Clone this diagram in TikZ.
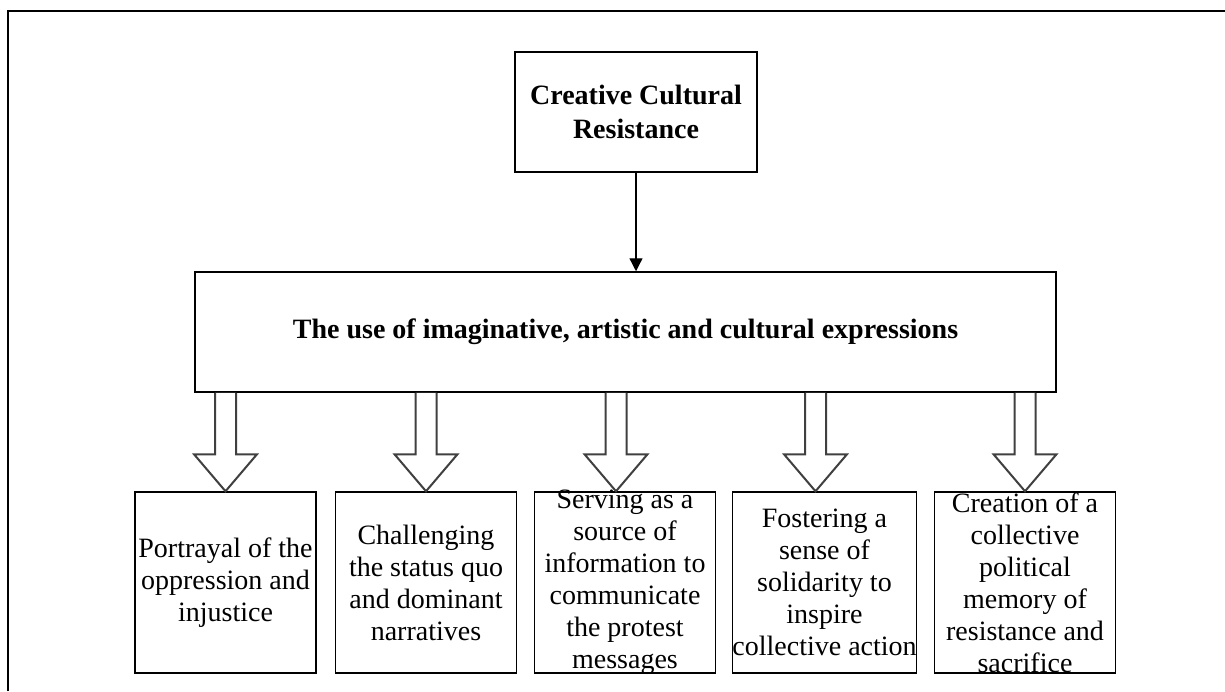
\documentclass[tikz,border=0pt]{standalone}
\usepackage{fontspec}
\setmainfont{Liberation Serif}
\usetikzlibrary{calc,arrows.meta}
\tikzset{
  frameline/.style={line width=1.2pt,black},
  box/.style={draw=black,line width=0.75pt,fill=white,align=center,inner sep=0pt,
    font=\fontsize{14pt}{16pt}\selectfont},
  titlebox/.style={box,font=\bfseries\fontsize{14pt}{17pt}\selectfont},
  smallbox/.style={box,minimum width=90.5pt,minimum height=90.5pt},
  boxtext/.style={align=center,inner sep=0pt,font=\fontsize{14pt}{16pt}\selectfont},
  harrow/.style={draw=black!75,line width=1pt,fill=white,line join=miter},
  link/.style={draw=black,line width=0.65pt,-{Triangle[length=6.5pt,width=6.5pt]}}
}
\newcommand{\hollowarrow}[2]{%
  \draw[harrow] let \p1=($(#1.north)+(#2,0)$), \p2=(mid.south) in
    (\x1-5.25pt,\y2) -- (\x1-5.25pt,\y1+18.5pt) -- (\x1-15.75pt,\y1+18.5pt) --
    (\x1,\y1) -- (\x1+15.75pt,\y1+18.5pt) -- (\x1+5.25pt,\y1+18.5pt) -- (\x1+5.25pt,\y2);}
\begin{document}
\begin{tikzpicture}[x=0.5pt,y=-0.5pt]
\useasboundingbox (0,0) rectangle (1225,691);
% outer frame (open on the right and bottom)
\coordinate (fbl) at (8,691);
\coordinate (ftl) at (8,11);
\coordinate (ftr) at (1225,11);
\draw[frameline] (fbl) -- (ftl) -- (ftr);

\node[titlebox,minimum width=121pt,minimum height=60pt] (top) at (636,112)
  {Creative Cultural\\Resistance};
\node[titlebox,minimum width=430.5pt,minimum height=60pt] (mid) at (625.5,332)
  {The use of imaginative, artistic and cultural expressions};

\draw[link] (top.south) -- (top.south |- mid.north);

\node[smallbox] (b1) at (225.5,582.5) {Portrayal of the\\oppression and\\injustice};
\node[smallbox] (b2) at (426,582.5) {Challenging\\the status quo\\and dominant\\narratives};
\node[smallbox] (b3) at (625,582.5) {};
\node[boxtext] (t3) at (b3.center) {Serving as a\\source of\\information to\\communicate\\the protest\\messages};
\node[smallbox] (b4) at (824.5,582.5) {Fostering a\\sense of\\solidarity to\\inspire\\collective action};
\node[smallbox] (b5) at (1025,582.5) {Creation of a\\collective\\political\\memory of\\resistance and\\sacrifice};

\hollowarrow{b1}{0}
\hollowarrow{b2}{0}
\hollowarrow{b3}{-9}
\hollowarrow{b4}{-9}
\hollowarrow{b5}{0}
\end{tikzpicture}
\end{document}
